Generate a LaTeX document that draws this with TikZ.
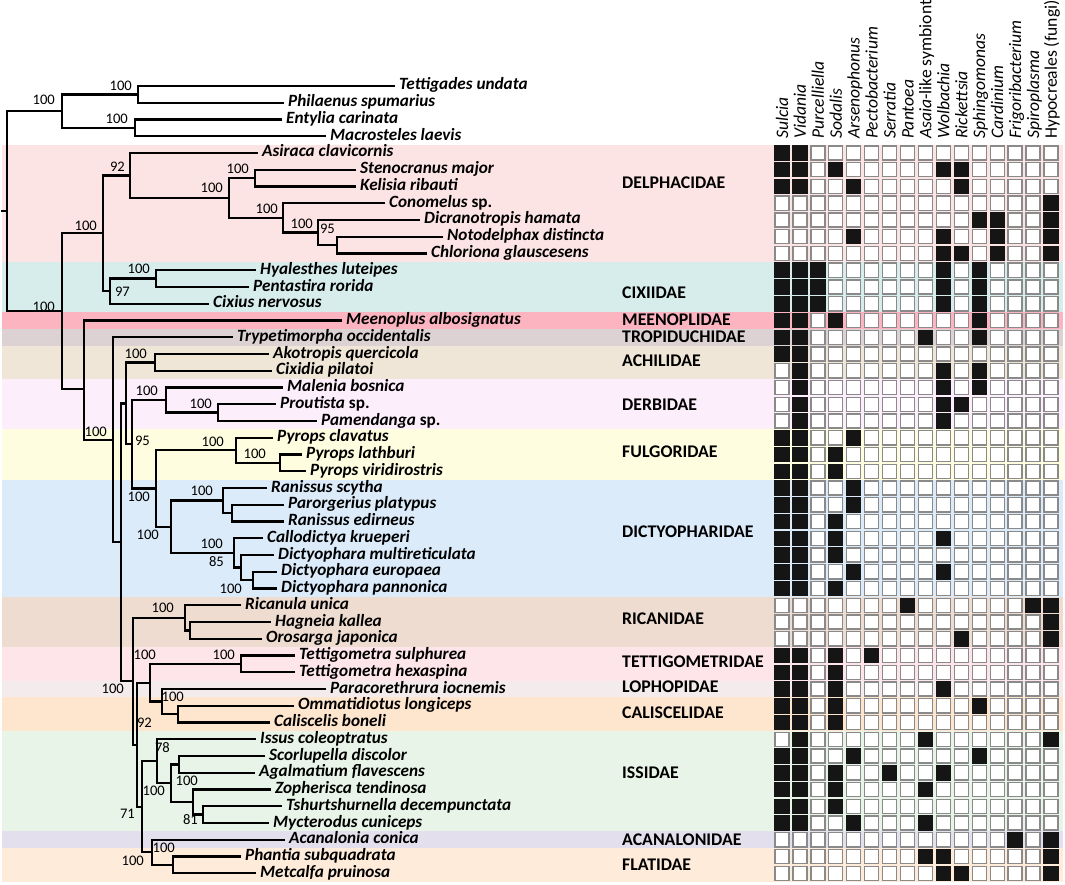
\documentclass[tikz,border=0pt]{standalone}
\usepackage{fontspec}
\setmainfont{Carlito}
\definecolor{cDel}{HTML}{FDE4E4}
\definecolor{cCix}{HTML}{D7EDEC}
\definecolor{cMee}{HTML}{FBB4C0}
\definecolor{cTro}{HTML}{DCD2D3}
\definecolor{cAch}{HTML}{F0E6D7}
\definecolor{cDer}{HTML}{FCEEFB}
\definecolor{cFul}{HTML}{FEFDDF}
\definecolor{cDic}{HTML}{DBEBFA}
\definecolor{cRic}{HTML}{EFDCD1}
\definecolor{cTet}{HTML}{FDE5EA}
\definecolor{cLop}{HTML}{F3EBEC}
\definecolor{cCal}{HTML}{FEE5CE}
\definecolor{cIss}{HTML}{E8F4E8}
\definecolor{cAca}{HTML}{E3DFEC}
\definecolor{cFla}{HTML}{FEEBDA}
\definecolor{sqgray}{HTML}{8A8A8A}
\definecolor{sqblack}{HTML}{151515}
\begin{document}
\begin{tikzpicture}[x=1pt,y=-1pt,
  br/.style={line width=2.3pt, line join=miter},
  tax/.style={anchor=west, inner xsep=4pt, inner ysep=0pt, text height=11.8pt, text depth=3.8pt, font=\fontsize{17.2}{19}\selectfont\bfseries\itshape},
  bs/.style={anchor=east, inner sep=0pt, font=\fontsize{14.6}{16}\selectfont},
  fam/.style={anchor=west, inner sep=0pt, font=\fontsize{17.8}{19}\selectfont\bfseries},
  hdr/.style={anchor=base west, rotate=90, inner sep=0pt, font=\fontsize{17.6}{19}\selectfont\itshape},
  sqe/.style={draw=sqgray, line width=1.3pt, fill=white},
  sqf/.style={draw=sqblack, line width=1.3pt, fill=sqblack}]
\useasboundingbox (0,0) rectangle (1065,885);
\fill[white] (0,0) rectangle (1065,885);
% family bands
\foreach \a/\b/\col in {4/10/cDel,11/13/cCix,14/14/cMee,15/15/cTro,16/17/cAch,18/20/cDer,21/23/cFul,24/30/cDic,31/33/cRic,34/35/cTet,36/36/cLop,37/38/cCal,39/44/cIss,45/45/cAca,46/47/cFla}
  \fill[\col] (2,{86+16.75*\a-8.375}) rectangle (1063,{86+16.75*\b+8.375});
% internal node coordinates
\coordinate (og1) at (138,94.4);
\coordinate (og2) at (135,127.9);
\coordinate (ogR) at (62,111.1);
\coordinate (root) at (7,211.2);
\coordinate (rootstub) at (1,211.2);
\coordinate (nA) at (62,311.2);
\coordinate (nB) at (103,233.3);
\coordinate (nD) at (130,175.5);
\coordinate (nE) at (229,198.0);
\coordinate (nF) at (255,178.1);
\coordinate (nG) at (283,217.9);
\coordinate (nH) at (318,232.6);
\coordinate (nI) at (337,245.1);
\coordinate (nC) at (110,291.2);
\coordinate (nCx) at (156,278.6);
\coordinate (nJ) at (84,389);
\coordinate (nK) at (113,439.8);
\coordinate (nL) at (121,542.3);
\coordinate (nM) at (126,403.4);
\coordinate (nN) at (155,362.4);
\coordinate (nO) at (132,444.3);
\coordinate (nP) at (166,400.1);
\coordinate (nQ) at (218,412.6);
\coordinate (nR) at (156,488.5);
\coordinate (nS) at (236,450.3);
\coordinate (nT) at (280,462.9);
\coordinate (nU) at (171,526.8);
\coordinate (nV) at (223,500.6);
\coordinate (nW) at (232,513.1);
\coordinate (nX) at (234,552.9);
\coordinate (nY) at (241,567.6);
\coordinate (nZ) at (253,580.1);
\coordinate (nAA) at (133,681.3);
\coordinate (nAB) at (185,617.8);
\coordinate (nAB2) at (190,630.4);
\coordinate (nAC) at (137,744.7);
\coordinate (nAD) at (150,682.7);
\coordinate (nAE) at (241,663.9);
\coordinate (nAF) at (162,701.6);
\coordinate (nAG) at (178,714.1);
\coordinate (nAH) at (142,806.8);
\coordinate (nAI) at (157,761.2);
\coordinate (nAJ) at (171,783.2);
\coordinate (nSA) at (179,764.4);
\coordinate (nAM) at (193,802.1);
\coordinate (nAN) at (203,814.6);
\coordinate (nAK) at (152,852.3);
\coordinate (nAL) at (173,864.9);
% taxa
\foreach \i/\xs/\name in {
 0/399/Tettigades undata, 1/288/Philaenus spumarius, 2/286/Entylia carinata, 3/330/Macrosteles laevis,
 4/262/Asiraca clavicornis, 5/360/Stenocranus major, 6/360/Kelisia ribauti, 7/389/{Conomelus \textup{sp.}},
 8/424/Dicranotropis hamata, 9/447/Notodelphax distincta, 10/431/Chloriona glauscesens,
 11/260/Hyalesthes luteipes, 12/253/Pentastira rorida, 13/213/Cixius nervosus,
 14/346/Meenoplus albosignatus, 15/237/Trypetimorpha occidentalis, 16/273/Akotropis quercicola,
 17/276/Cixidia pilatoi, 18/287/Malenia bosnica, 19/280/{Proutista \textup{sp.}}, 20/321/{Pamendanga \textup{sp.}},
 21/277/Pyrops clavatus, 22/306/Pyrops lathburi, 23/310/Pyrops viridirostris, 24/271/Ranissus scytha,
 25/288/Parorgerius platypus, 26/288/Ranissus edirneus, 27/267/Callodictya krueperi,
 28/278/Dictyophara multireticulata, 29/281/Dictyophara europaea, 30/281/Dictyophara pannonica,
 31/245/Ricanula unica, 32/275/Hagneia kallea, 33/266/Orosarga japonica, 34/299/Tettigometra sulphurea,
 35/299/Tettigometra hexaspina, 36/330/Paracorethrura iocnemis, 37/298/Ommatidiotus longiceps,
 38/274/Caliscelis boneli, 39/260/Issus coleoptratus, 40/269/Scorlupella discolor,
 41/259/Agalmatium flavescens, 42/275/Zopherisca tendinosa, 43/286/Tshurtshurnella decempunctata,
 44/273/Mycterodus cuniceps, 45/289/Acanalonia conica, 46/245/Phantia subquadrata, 47/260/Metcalfa pruinosa}
  \node[tax] (t\i) at ({\xs-4},{86+16.75*\i}) {\name};
% branches
\foreach \c/\p in {t0.west/og1,t1.west/og1,t2.west/og2,t3.west/og2,og1/ogR,og2/ogR,ogR/root,nA/root,
 nB/nA,nJ/nA,nD/nB,nC/nB,
 t4.west/nD,nE/nD,nF/nE,nG/nE,t5.west/nF,t6.west/nF,t7.west/nG,nH/nG,t8.west/nH,nI/nH,t9.west/nI,t10.west/nI,
 nCx/nC,t13.west/nC,t11.west/nCx,t12.west/nCx,
 t14.west/nJ,nK/nJ,t15.west/nK,nL/nK,nM/nL,nAA/nL,
 nN/nM,nO/nM,t16.west/nN,t17.west/nN,
 nP/nO,nR/nO,t18.west/nP,nQ/nP,t19.west/nQ,t20.west/nQ,
 nS/nR,nU/nR,t21.west/nS,nT/nS,t22.west/nT,t23.west/nT,
 nV/nU,nX/nU,t24.west/nV,nW/nV,t25.west/nW,t26.west/nW,
 t27.west/nX,nY/nX,t28.west/nY,nZ/nY,t29.west/nZ,t30.west/nZ,
 nAB/nAA,nAC/nAA,t31.west/nAB,nAB2/nAB,t32.west/nAB2,t33.west/nAB2,
 nAD/nAC,nAH/nAC,nAE/nAD,nAF/nAD,t34.west/nAE,t35.west/nAE,t36.west/nAF,nAG/nAF,t37.west/nAG,t38.west/nAG,
 nAI/nAH,nAK/nAH,t39.west/nAI,nAJ/nAI,nSA/nAJ,nAM/nAJ,t40.west/nSA,t41.west/nSA,t42.west/nAM,nAN/nAM,t43.west/nAN,t44.west/nAN,
 t45.west/nAK,nAL/nAK,t46.west/nAL,t47.west/nAL}
  \draw[br] (\c) -| (\p);
\draw[br] (root) -- (rootstub);
% bootstrap values
\foreach \k/\bx/\by/\v in {1/55/100/100,2/132/86/100,3/128/119/100,4/55/307/100,5/97/226/100,6/125/167/92,
 7/223/188/100,8/249/169/100,9/278/209/100,10/313/224/100,11/335/229/95,12/130/292/97,13/150/269/100,
 14/107/432/100,15/147/354/100,16/158/391/100,17/212/404/100,18/150/441/95,19/224/442/100,20/266/454/100,
 21/150/497/100,22/159/535/100,23/213/491/100,24/223/544/100,25/224/562/85,26/242/589/100,27/174/608/100,
 28/124/689/100,29/156/655/100,30/235/655/100,31/184/697/100,32/152/723/92,33/170/748/78,34/165/791/100,
 35/198/781/100,36/198/820/81,37/135/814/71,38/144/861/100,39/175/848/100}
  \node[bs] (b\k) at (\bx,\by) {\v};
% family labels
\foreach \k/\fy/\fn in {1/183/DELPHACIDAE,2/293/CIXIIDAE,3/320/MEENOPLIDAE,4/337/TROPIDUCHIDAE,5/361/ACHILIDAE,
 6/405/DERBIDAE,7/452/FULGORIDAE,8/532/DICTYOPHARIDAE,9/619/RICANIDAE,10/662/TETTIGOMETRIDAE,
 11/687/LOPHOPIDAE,12/713/CALISCELIDAE,13/773/ISSIDAE,14/840/ACANALONIDAE,15/865/FLATIDAE}
  \node[fam] (f\k) at (622,\fy) {\fn};
% column headers
\foreach \c/\h in {0/Sulcia,1/Vidania,2/Purcelliella,3/Sodalis,4/Arsenophonus,5/Pectobacterium,6/Serratia,
 7/Pantoea,8/{\textit{Asaia}\textup{-like symbiont}},9/Wolbachia,10/Rickettsia,11/Sphingomonas,12/Cardinium,
 13/Frigoribacterium,14/Spiroplasma,15/{\textup{Hypocreales (fungi)}}}
  \node[hdr] (h\c) at ({782+17.93*\c+6},139) {\h};
% grid
\foreach \r in {4,...,47}
  \foreach \c in {0,...,15}
    \draw[sqe] ({775+17.93*\c},{86+16.75*\r-7.1}) rectangle ++(14,14.2);
\foreach \r/\cl in {4/{0,1},5/{0,1,3,9,10},6/{0,1,4,10},7/{15},8/{11,12,15},9/{4,9,12,15},10/{9,10,12,15},
 11/{0,1,2,9,11},12/{0,1,2,9,11},13/{0,1,2,9,11},14/{0,1,3,11},15/{0,1,8,11},16/{0,1},17/{1,9,11},
 18/{1,9,11},19/{1,9,10},20/{1,9},21/{0,1,4},22/{0,1,3},23/{0,1,3},24/{0,1,4},25/{0,1,4},26/{0,1,3},
 27/{0,1,3,9},28/{0,1,3},29/{0,1,4,9},30/{0,1,3},31/{7,14,15},32/{15},33/{10,15},34/{0,1,3,5},
 35/{0,1,3},36/{0,1,3,9},37/{0,1,3,11},38/{0,1,3},39/{1,8,15},40/{0,1,4,11},41/{0,1,3,6,9},
 42/{0,1,3,8},43/{0,1,3},44/{0,1,4,8},45/{13,15},46/{8,9,15},47/{9,10,15}}
  \foreach \c in \cl
    \draw[sqf] ({775+17.93*\c},{86+16.75*\r-7.1}) rectangle ++(14,14.2);
\end{tikzpicture}
\end{document}
